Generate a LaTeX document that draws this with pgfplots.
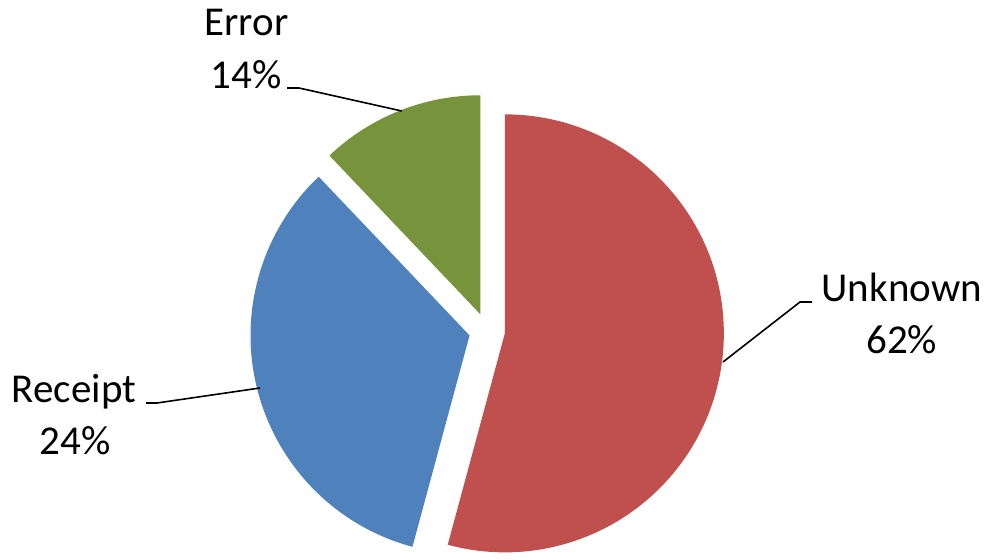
\documentclass[border=0pt]{standalone}
\usepackage{pgfplots}
\pgfplotsset{compat=1.18}
\usepackage{pgfplotstable}
\usepackage{fontspec}
\setmainfont{Carlito}
\definecolor{cRed}{HTML}{C0504D}
\definecolor{cBlue}{HTML}{4F81BD}
\definecolor{cGreen}{HTML}{77933C}
% share = drawn slice size (percent), pct = printed label
\pgfplotstableread{
name pct share
Unknown 62 54.2
Receipt 24 33.7
Error 14 12.1
}\piedata
\newcommand\slice[3]{% #1 cumulative start, #2 share, #3 colour
  \pgfmathsetmacro\sA{90-3.6*#1}%
  \pgfmathsetmacro\eA{90-3.6*(#1+#2)}%
  \pgfmathsetmacro\mA{(\sA+\eA)/2}%
  \pgfmathsetmacro\xA{487+18*cos(\mA)}%
  \pgfmathsetmacro\yA{218+18*sin(\mA)}%
  \fill[#3] (axis cs:\xA,\yA) -- ++(\sA:219bp) arc[start angle=\sA,end angle=\eA,radius=219bp] -- cycle;%
}
\begin{document}
\begin{tikzpicture}
\begin{axis}[x=1bp,y=1bp,xmin=0,xmax=988,ymin=0,ymax=549,hide axis,clip=false,scale only axis]
\path (axis cs:0,0) rectangle (axis cs:988,549);
\pgfplotsextra{%
  \pgfplotstablegetelem{0}{share}\of\piedata \edef\shA{\pgfplotsretval}%
  \pgfplotstablegetelem{1}{share}\of\piedata \edef\shB{\pgfplotsretval}%
  \pgfplotstablegetelem{2}{share}\of\piedata \edef\shC{\pgfplotsretval}%
  \pgfmathsetmacro\cB{\shA}%
  \pgfmathsetmacro\cC{\shA+\shB}%
  \slice{0}{\shA}{cRed}%
  \slice{\cB}{\shB}{cBlue}%
  \slice{\cC}{\shC}{cGreen}%
  \draw[black,line width=1.6bp] (axis cs:287,461) -- (axis cs:299,461) -- (axis cs:401.7,438);
  \draw[black,line width=1.6bp] (axis cs:146,146) -- (axis cs:157,146) -- (axis cs:260,161);
  \draw[black,line width=1.6bp] (axis cs:723,187) -- (axis cs:800,247) -- (axis cs:812,247);
  \pgfplotstablegetelem{0}{pct}\of\piedata \edef\pA{\pgfplotsretval}%
  \pgfplotstablegetelem{1}{pct}\of\piedata \edef\pB{\pgfplotsretval}%
  \pgfplotstablegetelem{2}{pct}\of\piedata \edef\pC{\pgfplotsretval}%
  \node[anchor=base,inner sep=0pt,font=\fontsize{41bp}{49bp}\selectfont] at (axis cs:246.5,513) {Error};
  \node[anchor=base,inner sep=0pt,font=\fontsize{41bp}{49bp}\selectfont] at (axis cs:246,460.7) {\pC\%};
  \node[anchor=base,inner sep=0pt,font=\fontsize{41bp}{49bp}\selectfont] at (axis cs:74,146.3) {Receipt};
  \node[anchor=base,inner sep=0pt,font=\fontsize{41bp}{49bp}\selectfont] at (axis cs:75,94) {\pB\%};
  \node[anchor=base,inner sep=0pt,font=\fontsize{41bp}{49bp}\selectfont] at (axis cs:901.7,247.3) {Unknown};
  \node[anchor=base,inner sep=0pt,font=\fontsize{41bp}{49bp}\selectfont] at (axis cs:901.7,195.7) {\pA\%};
}
\end{axis}
\end{tikzpicture}
\end{document}
